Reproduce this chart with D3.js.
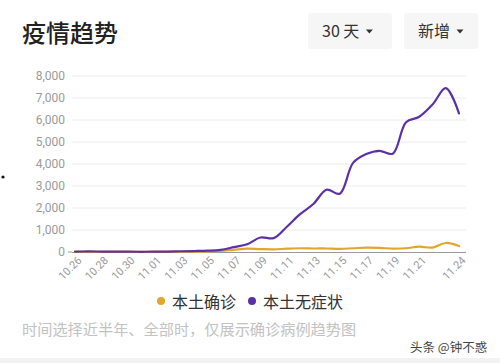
<!DOCTYPE html>
<html><head><meta charset="utf-8">
<script src="https://cdn.jsdelivr.net/npm/d3@7"></script>
<style>
html,body{margin:0;padding:0;background:#fff;}
svg{display:block;font-family:"Noto Sans CJK SC","Noto Sans",sans-serif;}
</style></head>
<body><svg id="c" width="500" height="363"></svg>
<script>
const dates = ["10.26","10.27","10.28","10.29","10.30","10.31","11.01","11.02","11.03","11.04",
  "11.05","11.06","11.07","11.08","11.09","11.10","11.11","11.12","11.13","11.14",
  "11.15","11.16","11.17","11.18","11.19","11.20","11.21","11.22","11.23","11.24"];
const confirmed = [5,3,3,2,2,3,5,8,12,15,25,50,100,150,130,120,150,170,160,160,140,170,200,190,150,170,240,200,410,270];
const asymptomatic = [20,25,20,15,15,10,15,20,35,45,60,100,220,350,660,630,1150,1720,2180,2830,2650,4050,4450,4600,4470,5900,6150,6700,7450,6300];
const xTicks = ["10.26","10.28","10.30","11.01","11.03","11.05","11.07","11.09","11.11","11.13","11.15","11.17","11.19","11.21","11.24"];
const yTicks = [0,1000,2000,3000,4000,5000,6000,7000,8000];
const seriesNames = ["本土确诊","本土无症状"];
const seriesColors = ["#e2a62a","#5b31a8"];

const svg = d3.select("#c");
svg.append("rect").attr("x",0).attr("y",358).attr("width",500).attr("height",5).attr("fill","#f2f2f2");
svg.append("circle").attr("cx",3).attr("cy",177).attr("r",1.6).attr("fill","#111");

svg.append("text").attr("x",22).attr("y",42).attr("font-size",24).attr("font-weight",500)
  .attr("fill","#222").text("疫情趋势");

const buttons = [{x:308,w:84,t:"30 天"},{x:404,w:74,t:"新增"}];
buttons.forEach(b=>{
  const g = svg.append("g");
  g.append("rect").attr("x",b.x).attr("y",13).attr("width",b.w).attr("height",36).attr("rx",3).attr("fill","#f6f6f6");
  const tx = g.append("text").attr("x",b.x+14).attr("y",37).attr("font-size",16).attr("fill","#333").text(b.t);
  const tw = tx.node().getComputedTextLength();
  const cx = b.x+14+tw+10;
  g.append("path").attr("d",`M${cx-3.5},29.5L${cx+3.5},29.5L${cx},33.5Z`).attr("fill","#333");
});

const x = d3.scalePoint().domain(dates).range([75,459]);
const y = d3.scaleLinear().domain([0,8000]).range([252,76]);

// gridlines
svg.append("g").selectAll("line").data(yTicks.slice(1)).join("line")
  .attr("x1",72).attr("x2",466).attr("y1",d=>y(d)).attr("y2",d=>y(d))
  .attr("stroke","#ececec").attr("stroke-width",1);

// y axis
const ya = svg.append("g").attr("transform","translate(72,0)")
  .call(d3.axisLeft(y).tickValues(yTicks).tickSize(0).tickPadding(7).tickFormat(d3.format(",")));
ya.select(".domain").remove();
ya.selectAll("text").attr("font-size",12).attr("fill","#9a9a9a").attr("font-family","Roboto, 'Noto Sans', sans-serif");
svg.append("line").attr("x1",68).attr("x2",72).attr("y1",y(0)).attr("y2",y(0)).attr("stroke","#999");

// x axis
const xa = svg.append("g").attr("transform",`translate(0,${y(0)})`)
  .call(d3.axisBottom(x).tickValues(xTicks).tickSize(0).tickPadding(0));
xa.select(".domain").attr("stroke","#9a9a9a").attr("d","M72,0.5H466");
xa.selectAll("text").attr("font-size",11).attr("fill","#9a9a9a")
  .attr("font-family","Roboto, 'Noto Sans', sans-serif")
  .attr("text-anchor","end").attr("dy",0)
  .attr("transform","translate(7,9) rotate(-45)");

const line = d3.line().x((d,i)=>x(dates[i])).y(d=>y(d)).curve(d3.curveCatmullRom.alpha(0.5));
[confirmed, asymptomatic].forEach((s,k)=>{
  svg.append("path").datum(s).attr("d",line).attr("fill","none")
    .attr("stroke",seriesColors[k]).attr("stroke-width",2.2).attr("stroke-linejoin","round").attr("stroke-linecap","round");
});

// legend
const leg = [{cx:161,tx:172},{cx:252,tx:263}];
leg.forEach((l,k)=>{
  svg.append("circle").attr("cx",l.cx).attr("cy",301).attr("r",4).attr("fill",seriesColors[k]);
  svg.append("text").attr("x",l.tx).attr("y",307.5).attr("font-size",16).attr("fill","#333").text(seriesNames[k]);
});

svg.append("text").attr("x",22).attr("y",335).attr("font-size",15.2).attr("fill","#c2c2c2")
  .text("时间选择近半年、全部时，仅展示确诊病例趋势图");
svg.append("text").attr("x",410).attr("y",352).attr("font-size",12.5).attr("fill","#444")
  .text("头条 @钟不惑");
</script></body></html>
